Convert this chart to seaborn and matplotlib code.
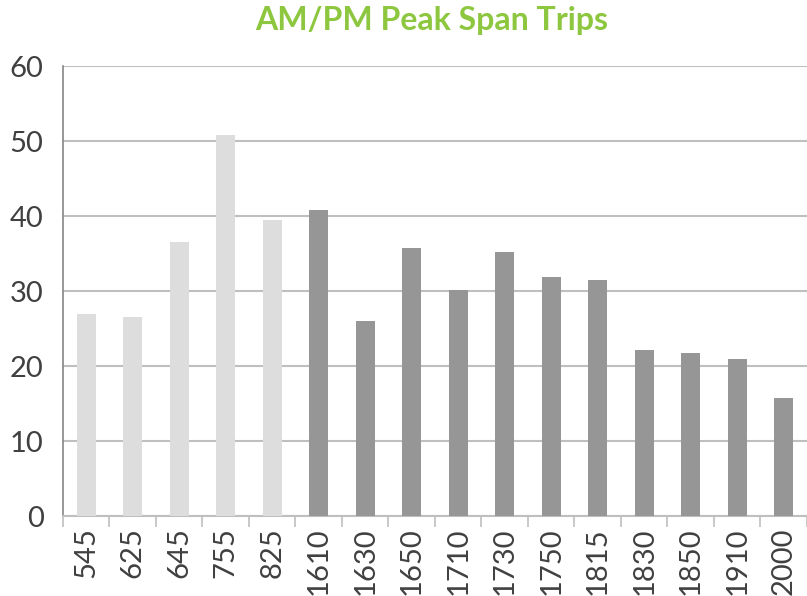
import seaborn as sns
import matplotlib.pyplot as plt
import pandas as pd

# trip start times and number of trips
times = ['545', '625', '645', '755', '825', '1610', '1630', '1650', '1710',
         '1730', '1750', '1815', '1830', '1850', '1910', '2000']
trips = [26.9, 26.5, 36.6, 50.8, 39.5, 40.8, 26.0, 35.7, 30.1,
         35.2, 31.9, 31.5, 22.1, 21.7, 20.9, 15.7]
period = ['AM'] * 5 + ['PM'] * 11

df = pd.DataFrame({'time': times, 'trips': trips, 'period': period})

sns.set_style('white')
plt.rcParams['font.family'] = ['Lato', 'DejaVu Sans']

fig = plt.figure(figsize=(8.07, 5.96), dpi=100)
ax = fig.add_axes([0.078, 0.134, 0.922, 0.755])

sns.barplot(data=df, x='time', y='trips', hue='period',
            palette={'AM': '#DDDDDD', 'PM': '#969696'},
            width=0.41, dodge=False, legend=False, ax=ax, zorder=3,
            linewidth=0)

ax.set_ylim(0, 60)
ax.set_yticks(range(0, 61, 10))
ax.set_xlim(-0.5, len(times) - 0.5)
ax.yaxis.grid(True, color='#BFBFBF', linewidth=1.5, zorder=0)
ax.set_axisbelow(True)

# tick marks sit between the categories
ax.set_xticks([i - 0.5 for i in range(len(times) + 1)], minor=True)
ax.tick_params(axis='x', which='minor', bottom=True, length=8,
               color='#BFBFBF', width=1.2)
ax.tick_params(axis='x', which='major', length=0, labelsize=21,
               labelcolor='#404040', rotation=90, pad=8)
ax.tick_params(axis='y', length=0, labelsize=21, labelcolor='#404040', pad=14)

for s in ['top', 'right']:
    ax.spines[s].set_visible(False)
ax.spines['left'].set_color('#868686')
ax.spines['bottom'].set_color('#BFBFBF')
ax.spines['left'].set_linewidth(1.2)
ax.spines['bottom'].set_linewidth(1.5)

ax.set_xlabel('')
ax.set_ylabel('')
fig.suptitle('AM/PM Peak Span Trips', color='#8DC63F', fontsize=23,
             fontweight='bold', x=0.535, y=0.99)

plt.savefig('out.png', dpi=100)
